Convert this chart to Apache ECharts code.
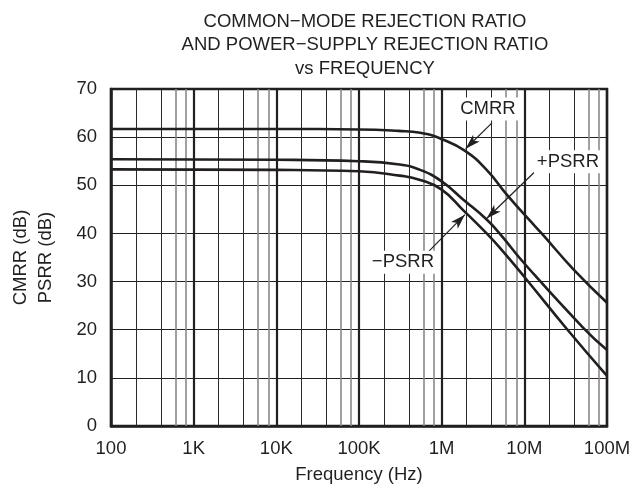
<!DOCTYPE html>
<html>
<head>
<meta charset="utf-8">
<script src="https://cdn.jsdelivr.net/npm/echarts@6/dist/echarts.min.js"></script>
<style>
html,body{margin:0;padding:0;background:#fff;}
#c{width:631px;height:492px;}
</style>
</head>
<body>
<div id="c"></div>
<script>
// ---- data ----
var xTickLabels = ['100', '1K', '10K', '100K', '1M', '10M', '100M'];
var yTicks = [0, 10, 20, 30, 40, 50, 60, 70];

var cmrrFreq = [100, 1e3, 1e4, 1e5, 3e5, 5.5e5, 1e6, 1.9e6, 3.5e6, 6.1e6, 1.12e7, 1.62e7, 3.9e7, 1e8];
var cmrrDb   = [61.7, 61.7, 61.7, 61.6, 61.3, 60.9, 59.6, 57.2, 53.2, 48.1, 43.0, 40.0, 32.6, 25.6];

var ppsrrFreq = [100, 1e4, 1e5, 3.1e5, 5.5e5, 1e6, 1.83e6, 3.5e6, 5.07e6, 1.02e7, 5.16e7, 1e8];
var ppsrrDb   = [55.4, 55.3, 55.0, 54.3, 53.2, 50.8, 47.0, 42.9, 39.9, 33.6, 20.4, 15.8];

var npsrrFreq = [100, 1e4, 1e5, 3.1e5, 5.5e5, 1e6, 1.83e6, 3.5e6, 5.07e6, 1.02e7, 3.25e7, 1e8];
var npsrrDb   = [53.3, 53.2, 52.9, 52.0, 51.1, 49.1, 44.8, 40.0, 37.0, 30.8, 20.2, 10.4];

// minor vertical grid lines (2 and 4 of each decade dark, 6 and 8 grey)
var decades = [100, 1e3, 1e4, 1e5, 1e6, 1e7];
var minorDark = [2, 4];
var minorGrey = [6, 8];

// annotations: label text, label position [freq, dB], arrow start, arrow tip
var annText  = ['CMRR', '+PSRR', '\u2212PSRR'];
var annLabel = [[3.63e6, 65.85], [3.37e7, 54.9], [3.4e5, 34.0]];
var annFrom  = [[4.06e6, 62.95], [1.34e7, 52.8], [6.84e5, 36.1]];
var annTo    = [[1.95e6, 57.6], [3.5e6, 43.1], [1.91e6, 43.9]];

// ---- build ----
function pairs(fx, vy) { return fx.map(function (f, i) { return [f, vy[i]]; }); }
function gridLines(mults) {
  var out = [];
  decades.forEach(function (d) { mults.forEach(function (m) { out.push({ xAxis: d * m }); }); });
  return out;
}

var FONT = 'Liberation Sans, Arial, Helvetica, sans-serif';
var INK = '#231f20';
var FS = 18.5;

var lineStyleCurve = { color: INK, width: 2.6 };

var series = [
  {
    name: 'minorDark', type: 'line', data: [], silent: true,
    markLine: {
      silent: true, symbol: ['none', 'none'], label: { show: false },
      lineStyle: { color: '#2a2a2a', width: 1, type: 'solid' },
      data: gridLines(minorDark), animation: false
    }
  },
  {
    name: 'minorGrey', type: 'line', data: [], silent: true,
    markLine: {
      silent: true, symbol: ['none', 'none'], label: { show: false },
      lineStyle: { color: '#8a8a8a', width: 1.6, type: 'solid' },
      data: gridLines(minorGrey), animation: false
    }
  },
  {
    name: 'CMRR', type: 'line', data: pairs(cmrrFreq, cmrrDb), showSymbol: false,
    smooth: 0.5, lineStyle: lineStyleCurve, z: 5
  },
  {
    name: '+PSRR', type: 'line', data: pairs(ppsrrFreq, ppsrrDb), showSymbol: false,
    smooth: 0.5, lineStyle: lineStyleCurve, z: 5
  },
  {
    name: '-PSRR', type: 'line', data: pairs(npsrrFreq, npsrrDb), showSymbol: false,
    smooth: 0.5, lineStyle: lineStyleCurve, z: 5
  },
  {
    name: 'annotations', type: 'line', data: [], silent: true, z: 6,
    markLine: {
      silent: true, symbol: ['none', 'arrow'], symbolSize: [7, 15],
      label: { show: false },
      lineStyle: { color: INK, width: 1.2, type: 'solid' },
      data: annFrom.map(function (a, i) { return [{ coord: a }, { coord: annTo[i] }]; }),
      animation: false
    },
    markPoint: {
      silent: true, symbol: 'rect', symbolSize: 0,
      label: {
        show: true, position: 'inside', color: INK, fontFamily: FONT, fontSize: FS,
        backgroundColor: '#fff', padding: [3, 3, 1, 3]
      },
      data: annLabel.map(function (c, i) {
        return { coord: c, value: annText[i], label: { formatter: annText[i] } };
      }),
      animation: false
    }
  }
];

var chart = echarts.init(document.getElementById('c'), null, { renderer: 'canvas' });
chart.setOption({
  animation: false,
  backgroundColor: '#fff',
  title: {
    text: 'COMMON\u2212MODE REJECTION RATIO\nAND POWER\u2212SUPPLY REJECTION RATIO\nvs FREQUENCY',
    left: 360, top: 5, textAlign: 'center',
    textStyle: { fontFamily: FONT, fontSize: FS, fontWeight: 'normal', color: INK, lineHeight: 23.5 }
  },
  grid: {
    left: 111, right: 24, top: 89, bottom: 66, show: true, outerBoundsMode: 'none', containLabel: false,
    borderColor: INK, borderWidth: 2.5, backgroundColor: 'transparent'
  },
  xAxis: {
    type: 'log', logBase: 10, min: 100, max: 1e8,
    name: 'Frequency (Hz)', nameLocation: 'middle', nameGap: 39,
    nameTextStyle: { fontFamily: FONT, fontSize: FS, color: INK },
    axisLine: { show: true, lineStyle: { color: INK, width: 2.5 } },
    axisTick: { show: false },
    axisLabel: {
      fontFamily: FONT, fontSize: FS, color: INK, margin: 13,
      formatter: function (v) {
        var i = Math.round(Math.log10(v)) - 2;
        return xTickLabels[i] !== undefined ? xTickLabels[i] : '';
      }
    },
    splitLine: { show: true, lineStyle: { color: INK, width: 2.2 } }
  },
  yAxis: {
    type: 'value', min: yTicks[0], max: yTicks[yTicks.length - 1], interval: 10,
    name: 'CMRR (dB)\nPSRR (dB)', nameLocation: 'middle', nameGap: 53, nameRotate: 90,
    nameTextStyle: { fontFamily: FONT, fontSize: FS, color: INK, lineHeight: 25 },
    axisLine: { show: true, lineStyle: { color: INK, width: 2.5 } },
    axisTick: { show: false },
    axisLabel: { fontFamily: FONT, fontSize: FS, color: INK, margin: 14 },
    splitLine: { show: true, lineStyle: { color: INK, width: 1.2 } }
  },
  series: series
});
</script>
</body>
</html>
